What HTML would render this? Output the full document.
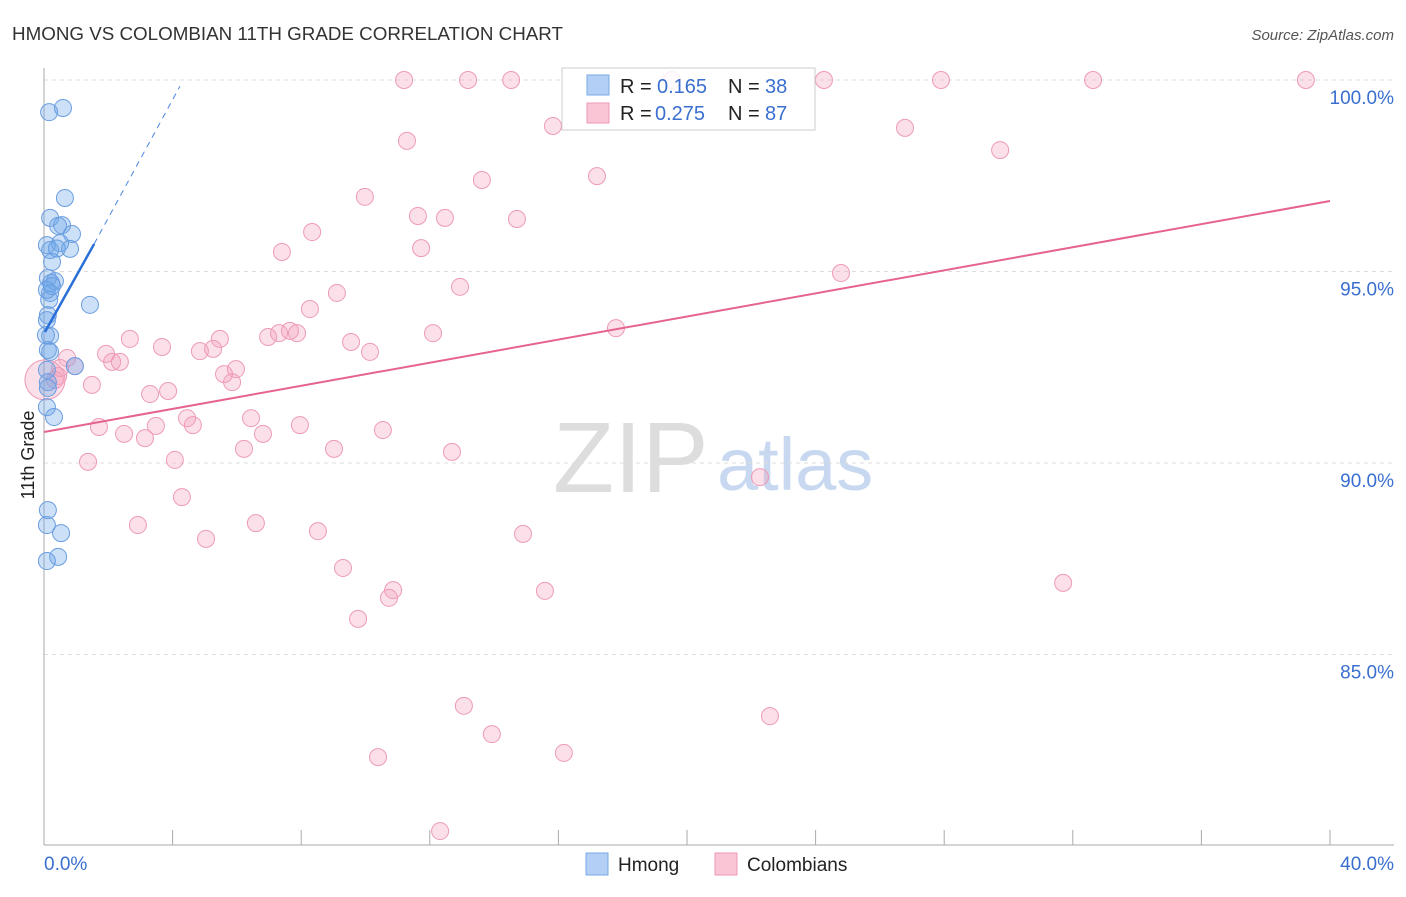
<!DOCTYPE html>
<html><head><meta charset="utf-8"><style>
body{margin:0;background:#fff;font-family:"Liberation Sans",sans-serif}
svg text{font-family:"Liberation Sans",sans-serif}
</style></head><body>
<svg width="1406" height="892">
<text x="12" y="40" font-size="18.8" fill="#333">HMONG VS COLOMBIAN 11TH GRADE CORRELATION CHART</text>
<text x="1394" y="40" font-size="15" fill="#555" font-style="italic" text-anchor="end">Source: ZipAtlas.com</text>
<text x="553" y="492" font-size="100" fill="#ddd" font-family="Liberation Serif">ZIP</text>
<text x="717" y="490" font-size="74" fill="#c8d8f0">atlas</text>
<g id="grid"></g>
<g id="axes"></g>
<g id="marks"></g>
<text transform="translate(34,455) rotate(-90)" font-size="18" fill="#222" text-anchor="middle">11th Grade</text>
<g>
<rect x="562" y="68" width="253" height="62" fill="rgba(255,255,255,0.85)" stroke="#ccc"/>
<rect x="587" y="75" width="22" height="20" fill="#b3cff5" stroke="#7aa8e8"/>
<text x="620" y="93" font-size="20" fill="#222">R = </text><text x="657" y="93" font-size="20" fill="#3a6fd0">0.165</text>
<text x="728" y="93" font-size="20" fill="#222">N = </text><text x="765" y="93" font-size="20" fill="#3a6fd0">38</text>
<rect x="587" y="103" width="22" height="20" fill="#fac5d5" stroke="#ec9ab6"/>
<text x="620" y="120" font-size="20" fill="#222">R = </text><text x="655" y="120" font-size="20" fill="#3a6fd0">0.275</text>
<text x="728" y="120" font-size="20" fill="#222">N = </text><text x="765" y="120" font-size="20" fill="#3a6fd0">87</text>
</g>
<g>
<rect x="586" y="853" width="22" height="22" fill="#b3cff5" stroke="#7aa8e8"/>
<text x="618" y="871" font-size="19" fill="#222">Hmong</text>
<rect x="715" y="853" width="22" height="22" fill="#fac5d5" stroke="#ec9ab6"/>
<text x="747" y="871" font-size="19" fill="#222">Colombians</text>
</g>
<text x="44" y="870" font-size="19" fill="#3a6fd0">0.0%</text>
<text x="1394" y="870" font-size="19" fill="#3a6fd0" text-anchor="end">40.0%</text>
</svg>
<script>
const yTicks=[100,95,90,85];
const yTickLabels=["100.0%","95.0%","90.0%","85.0%"];
const hmongX=[0.16,0.59,0.65,0.19,0.56,0.44,0.87,0.09,0.5,0.81,0.19,0.25,0.12,0.34,0.22,0.19,0.16,1.43,0.12,0.09,0.19,0.12,0.19,0.09,0.12,0.96,0.09,0.31,0.12,0.09,0.53,0.44,0.09,0.09,0.25,0.06,0.4,0.12];
const hmongY=[99.16,99.27,96.92,96.40,96.21,96.19,95.98,95.69,95.74,95.59,95.56,95.25,94.83,94.75,94.70,94.44,94.26,94.13,93.86,93.73,93.32,92.95,92.90,92.43,92.11,92.53,91.46,91.20,88.77,88.38,88.17,87.55,87.44,94.52,94.62,93.34,95.60,91.96];
const colX=[11.20,13.19,14.53,19.53,24.26,27.90,32.63,39.25,15.83,26.78,11.29,29.74,17.20,13.62,9.98,11.63,12.47,14.71,8.34,11.73,7.40,24.79,12.94,9.11,8.27,17.79,12.10,2.67,5.47,6.97,7.65,7.87,7.31,9.55,3.67,4.85,5.26,10.14,1.93,0.72,2.12,2.36,0.50,0.96,5.97,5.60,0.44,5.85,1.49,3.86,3.30,4.45,6.44,7.96,4.63,1.71,3.48,10.54,2.49,3.14,6.81,6.22,9.02,12.69,1.37,4.07,22.27,4.29,2.92,6.59,8.52,14.90,5.04,9.30,31.70,10.86,15.58,10.73,9.77,13.06,22.58,13.93,16.17,10.39,12.32,0.34,0.03];
const colY=[100,100,100,100,100,100,100,100,98.80,98.75,98.41,98.17,97.49,97.39,96.95,96.45,96.40,96.37,96.03,95.61,95.51,94.96,94.60,94.44,94.02,93.52,93.39,93.24,93.24,93.29,93.45,93.39,93.39,93.16,93.03,92.92,92.98,92.90,92.85,92.74,92.64,92.64,92.48,92.53,92.45,92.32,92.27,92.11,92.04,91.88,91.80,91.17,91.17,90.99,90.99,90.94,90.97,90.86,90.76,90.65,90.76,90.37,90.37,90.29,90.03,90.08,89.63,89.11,88.38,88.43,88.22,88.15,88.02,87.26,86.87,86.68,86.66,86.48,85.93,83.66,83.39,82.92,82.43,82.32,80.39,92.17,92.17];
const colTrend=[[0,90.81],[40,96.84]];
const hmongTrend=[[0.03,93.42],[1.56,95.72]];
const hmongTrendExt=[[1.56,95.72],[4.23,99.84]];
const X=v=>44+v*32.15, Y=v=>80+(100-v)*38.3;
const NS="http://www.w3.org/2000/svg";
function mk(t,a,p){const e=document.createElementNS(NS,t);for(const k in a)e.setAttribute(k,a[k]);p.appendChild(e);return e;}
const grid=document.getElementById('grid'),axes=document.getElementById('axes'),marks=document.getElementById('marks');
yTicks.forEach((t,i)=>{
 const l=mk('line',{x1:44,x2:1394,y1:Y(t),y2:Y(t),stroke:'#ddd','stroke-dasharray':'4,4'},grid);
 
 
 const tx=mk('text',{x:1394,y:Y(t)+24,'font-size':19,fill:'#3a6fd0','text-anchor':'end'},grid);
 tx.textContent=yTickLabels[i];
 
 
});
const ax=mk('line',{x1:44,x2:44,y1:68,y2:845,stroke:'#aaa'},axes);


const bx=mk('line',{x1:44,x2:1394,y1:845,y2:845,stroke:'#aaa'},axes);


for(let i=0;i<=10;i++){const t=mk('line',{x1:X(i*4),x2:X(i*4),y1:830,y2:845,stroke:'#aaa'},axes);
 
 }
colX.forEach((x,i)=>{const big=i===colX.length-1;
 const c=mk('circle',{cx:X(x),cy:Y(colY[i]),r:big?20:8.5,fill:'rgba(244,160,188,0.32)',stroke:'#ee9ab8','stroke-width':1},marks);
 
 });
hmongX.forEach((x,i)=>{
 const c=mk('circle',{cx:X(x),cy:Y(hmongY[i]),r:8.5,fill:'rgba(110,165,232,0.35)',stroke:'#6a9de0','stroke-width':1},marks);
 
 });
const pl=mk('line',{x1:X(colTrend[0][0]),y1:Y(colTrend[0][1]),x2:X(colTrend[1][0]),y2:Y(colTrend[1][1]),stroke:'#e5638e','stroke-width':2},marks);


const bl=mk('line',{x1:X(hmongTrend[0][0]),y1:Y(hmongTrend[0][1]),x2:X(hmongTrend[1][0]),y2:Y(hmongTrend[1][1]),stroke:'#2a6fd8','stroke-width':2.5},marks);


const bd=mk('line',{x1:X(hmongTrendExt[0][0]),y1:Y(hmongTrendExt[0][1]),x2:X(hmongTrendExt[1][0]),y2:Y(hmongTrendExt[1][1]),stroke:'#4a85e0','stroke-width':1,'stroke-dasharray':'6,5'},marks);


</script>
</body></html>
